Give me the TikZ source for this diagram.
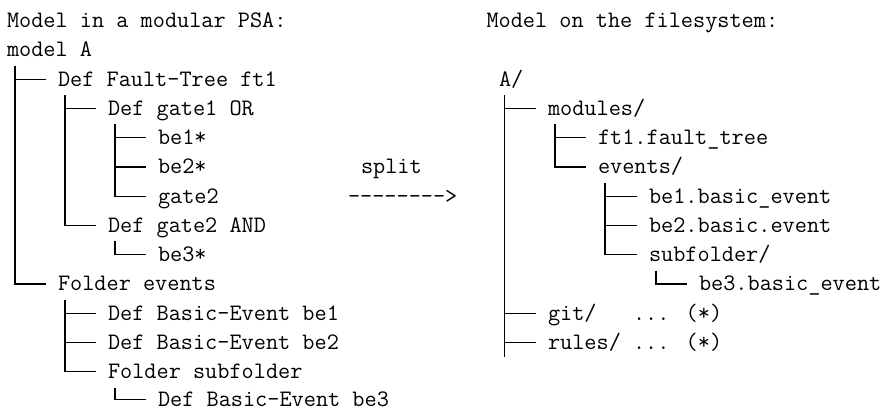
\documentclass[tikz,border=0pt]{standalone}
\usepackage{fontspec}
\usetikzlibrary{calc}
\tikzset{
  lbl/.style={anchor=base west, inner sep=0pt, outer sep=0pt,
              font=\fontsize{11.8}{14}\selectfont\ttfamily},
  treeline/.style={line width=0.6pt, black},
}
\newcommand\branch[3][7]{\draw[treeline] ($(#2.base west)+(#1,9)$) |- ($(#3.base west)+(-12,-7)$);}
\begin{document}
\begin{tikzpicture}[x=0.5pt,y=-0.5pt]
\useasboundingbox (0,0) rectangle (887,410);
% left tree
\node[lbl] (t1) at (7,27.75) {Model in a modular PSA:};
\node[lbl] (mA) at (7,57) {model A};
\node[lbl] (ft1) at (58,86.25) {Def Fault-Tree ft1};
\node[lbl] (g1) at (108,115.5) {Def gate1 OR};
\node[lbl] (b1) at (158,144.75) {be1*};
\node[lbl] (b2) at (158,174) {be2*};
\node[lbl] (g2r) at (158,203.25) {gate2};
\node[lbl] (g2) at (108,232.5) {Def gate2 AND};
\node[lbl] (b3) at (158,261.75) {be3*};
\node[lbl] (fe) at (58,291) {Folder events};
\node[lbl] (dbe1) at (108,320.25) {Def Basic-Event be1};
\node[lbl] (dbe2) at (108,349.5) {Def Basic-Event be2};
\node[lbl] (fs) at (108,378.75) {Folder subfolder};
\node[lbl] (dbe3) at (158,406.5) {Def Basic-Event be3};
\branch[8]{mA}{ft1}
\branch[8]{mA}{fe}
\branch{ft1}{g1}
\branch{ft1}{g2}
\branch{g1}{b1}
\branch{g1}{b2}
\branch{g1}{g2r}
\branch{g2}{b3}
\branch{fe}{dbe1}
\branch{fe}{dbe2}
\branch{fe}{fs}
\branch{fs}{dbe3}
% middle
\node[lbl] (split) at (361,174) {split};
\node[lbl] (arrow) at (348,203.25) {{-}{-}{-}{-}{-}{-}{-}{-}>};
% right tree
\node[lbl] (t2) at (486.5,27.75) {Model on the filesystem:};
\node[lbl] (A) at (499,86.25) {A/};
\node[lbl] (mod) at (548,115.5) {modules/};
\node[lbl] (ftf) at (598,144.75) {ft1.fault\_tree};
\node[lbl] (ev) at (598,174) {events/};
\node[lbl] (be1f) at (649,203.25) {be1.basic\_event};
\node[lbl] (be2f) at (649,232.5) {be2.basic.event};
\node[lbl] (sub) at (649,261.75) {subfolder/};
\node[lbl] (be3f) at (699,291) {be3.basic\_event};
\node[lbl] (git) at (548,320.25) {git/\ \ \ ... (*)};
\node[lbl] (rules) at (548,349.5) {rules/ ... (*)};
\branch[5.5]{A}{mod}
\branch[5.5]{A}{git}
\branch[5.5]{A}{rules}
\coordinate (rulesend) at ($(rules.base west)+(-43.5,-7)$);
\draw[treeline] (rulesend) -- ++(0,15);
\branch{mod}{ftf}
\branch{mod}{ev}
\branch{ev}{be1f}
\branch{ev}{be2f}
\branch{ev}{sub}
\branch{sub}{be3f}
\end{tikzpicture}
\end{document}
